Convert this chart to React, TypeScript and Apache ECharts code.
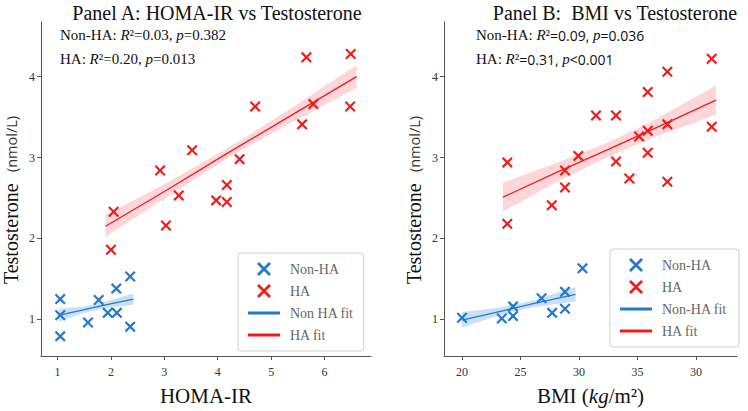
import React, { useEffect, useRef } from 'react';
import * as echarts from 'echarts';

// ---------- Data ----------
// Panel A: HOMA-IR vs Testosterone
const homaNonHA_x = [1.05, 1.05, 1.05, 1.57, 1.77, 1.94, 2.11, 2.10, 2.36, 2.36];
const homaNonHA_y = [1.25, 1.05, 0.79, 0.96, 1.24, 1.08, 1.08, 1.38, 1.53, 0.91];
const homaHA_x = [2.0, 2.05, 2.92, 3.03, 3.27, 3.52, 4.41, 4.17, 3.97, 4.17, 4.70, 5.66, 6.49, 5.58, 5.79, 6.48];
const homaHA_y = [1.86, 2.33, 2.84, 2.16, 2.53, 3.09, 2.98, 2.66, 2.47, 2.45, 3.63, 4.24, 4.28, 3.41, 3.66, 3.63];

const homaNonHAFit_x = [1.02, 1.5, 1.9, 2.42];
const homaNonHAFit_y = [1.05, 1.12, 1.18, 1.25];
const homaNonHABand_lo = [0.97, 1.08, 1.14, 1.18];
const homaNonHABand_hi = [1.13, 1.16, 1.22, 1.32];

const homaHAFit_x = [1.9, 3.0, 4.2, 5.4, 6.6];
const homaHAFit_y = [2.15, 2.58, 3.06, 3.53, 4.0];
const homaHABand_lo = [2.02, 2.49, 3.0, 3.44, 3.86];
const homaHABand_hi = [2.29, 2.67, 3.12, 3.62, 4.14];

// Panel B: BMI vs Testosterone
const bmiNonHA_x = [20.0, 23.4, 24.36, 24.36, 26.8, 27.7, 28.8, 28.8, 30.3];
const bmiNonHA_y = [1.02, 1.01, 1.04, 1.16, 1.26, 1.08, 1.13, 1.34, 1.63];
const bmiHA_x = [23.87, 23.87, 27.67, 28.8, 28.8, 29.94, 31.45, 33.16, 33.16, 34.3, 35.13, 35.87, 35.87, 35.87, 37.55, 37.55, 37.55, 41.34, 41.34];
const bmiHA_y = [2.94, 2.18, 2.41, 2.84, 2.63, 3.02, 3.52, 3.52, 2.95, 2.74, 3.26, 3.33, 3.81, 3.06, 4.06, 3.41, 2.70, 4.22, 3.38];

const bmiNonHAFit_x = [20.0, 23.0, 26.0, 29.7];
const bmiNonHAFit_y = [0.99, 1.09, 1.19, 1.31];
const bmiNonHABand_lo = [0.90, 1.04, 1.15, 1.22];
const bmiNonHABand_hi = [1.09, 1.14, 1.23, 1.40];

const bmiHAFit_x = [23.5, 28.0, 32.5, 36.0, 41.7];
const bmiHAFit_y = [2.51, 2.81, 3.10, 3.33, 3.71];
const bmiHABand_lo = [2.33, 2.69, 3.01, 3.23, 3.53];
const bmiHABand_hi = [2.69, 2.93, 3.19, 3.43, 3.89];

// Axis ticks / labels
const homaTicks = [1, 2, 3, 4, 5, 6];
const bmiTicks = [20, 25, 30, 35, 40];
const bmiTickLabels = ['20', '25', '30', '35', '30'];
const testoTicks = [1, 2, 3, 4];

const statsA = { nonHA: { r2: '0.03', p: '=0.382' }, HA: { r2: '0.20', p: '=0.013' } };
const statsB = { nonHA: { r2: '0.09', p: '=0.036' }, HA: { r2: '0.31', p: '<0.001' } };

// ---------- Styles ----------
const SERIF = '"Liberation Serif", "Times New Roman", serif';
const SANS = '"Open Sans", "Noto Sans", sans-serif';
const BLUE = '#2379cc';
const RED = '#ee1c1c';
const BLUE_BAND = 'rgba(70,145,230,0.28)';
const RED_BAND = 'rgba(245,70,80,0.22)';
const X_SYMBOL = 'path://M0,1.4L1.4,0L5,3.6L8.6,0L10,1.4L6.4,5L10,8.6L8.6,10L5,6.4L1.4,10L0,8.6L3.6,5Z';
const LINE_ICON = 'path://M0,0L32,0L32,3L0,3Z';

const pairs = (xs: number[], ys: number[]) => xs.map((x, i) => [x, ys[i]]);

const band = (idx: number, xs: number[], lo: number[], hi: number[], color: string) => ({
  type: 'custom',
  xAxisIndex: idx,
  yAxisIndex: idx,
  silent: true,
  z: 1,
  data: xs.map((x, i) => [x, lo[i], hi[i]]),
  encode: { x: 0, y: [1, 2] },
  renderItem: (params: any, api: any) => {
    if (params.dataIndex !== 0) return null;
    const up = xs.map((x, i) => api.coord([x, hi[i]]));
    const dn = xs.map((x, i) => api.coord([x, lo[i]])).reverse();
    return { type: 'polygon', shape: { points: up.concat(dn) }, style: { fill: color }, silent: true };
  },
});

const fit = (idx: number, name: string, xs: number[], ys: number[], color: string) => ({
  type: 'line',
  name,
  xAxisIndex: idx,
  yAxisIndex: idx,
  data: pairs(xs, ys),
  symbol: 'none',
  lineStyle: { color, width: 1.3 },
  itemStyle: { color },
  z: 3,
});

const scatter = (idx: number, name: string, xs: number[], ys: number[], color: string) => ({
  type: 'scatter',
  name,
  xAxisIndex: idx,
  yAxisIndex: idx,
  data: pairs(xs, ys),
  symbol: X_SYMBOL,
  symbolSize: 11,
  itemStyle: { color, opacity: 1 },
  z: 4,
});

const axisCommon = {
  splitLine: { show: false },
  axisLine: { show: true, lineStyle: { color: '#555', width: 1 } },
  axisTick: { show: true, length: 4, lineStyle: { color: '#555' } },
};

const legendCommon = {
  orient: 'vertical',
  itemWidth: 32,
  itemHeight: 14,
  itemGap: 8,
  backgroundColor: '#fff',
  borderColor: '#cfcfcf',
  borderWidth: 1,
  borderRadius: 3,
  textStyle: { fontFamily: SERIF, fontSize: 14, color: '#666', padding: [0, 0, 0, 5] },
};

const legendData = (fitName: string) => [
  { name: 'Non-HA' },
  { name: 'HA' },
  { name: fitName, icon: LINE_ICON },
  { name: 'HA fit', icon: LINE_ICON },
];

const statText = (x: number, y: number, label: string, r2: string, p: string, numFont: string, numSize: number) => ({
  type: 'text',
  x,
  y,
  style: {
    text: `{a|${label}: }{i|R}{a|²}{n|=${r2}, }{i|p}{n|${p}}`,
    textVerticalAlign: 'middle',
    rich: {
      a: { fontFamily: SERIF, fontSize: 15, fill: '#111' },
      i: { fontFamily: SERIF, fontSize: 15, fontStyle: 'italic', fill: '#111' },
      n: { fontFamily: numFont, fontSize: numSize, fill: '#111' },
    },
  },
});

export default function App() {
  const ref = useRef<HTMLDivElement>(null);
  useEffect(() => {
    if (!ref.current) return;
    const chart = echarts.init(ref.current, null, { renderer: 'svg' });
    const yName = {
      name: '{t|Testosterone}{u|   (nmol/L)}',
      nameLocation: 'middle',
      nameGap: 20,
      nameRotate: 90,
      nameTextStyle: {
        padding: [0, 22, 0, 0],
        rich: {
          t: { fontFamily: SERIF, fontSize: 20, color: '#111' },
          u: { fontFamily: SANS, fontSize: 14.5, color: '#333' },
        },
      },
    };
    const option: any = {
      animation: false,
      backgroundColor: '#fff',
      grid: [
        { left: 41, top: 22, width: 330, height: 337 },
        { left: 444, top: 22, width: 293, height: 338 },
      ],
      xAxis: [
        {
          type: 'value',
          gridIndex: 0,
          min: 0.69,
          max: 6.87,
          ...axisCommon,
          axisTick: { ...axisCommon.axisTick, customValues: homaTicks },
          axisLabel: { customValues: homaTicks, fontFamily: SERIF, fontSize: 12, color: '#333', margin: 10 },
          name: 'HOMA-IR',
          nameLocation: 'middle',
          nameGap: 29,
          nameTextStyle: { fontFamily: SERIF, fontSize: 21, color: '#111' },
        },
        {
          type: 'value',
          gridIndex: 1,
          min: 18.46,
          max: 43.5,
          ...axisCommon,
          axisTick: { ...axisCommon.axisTick, customValues: bmiTicks },
          axisLabel: {
            customValues: bmiTicks,
            formatter: (v: number) => bmiTickLabels[bmiTicks.indexOf(v)] ?? String(v),
            fontFamily: SERIF,
            fontSize: 12,
            color: '#333',
            margin: 10,
          },
          name: '{a|BMI (}{i|kg}{a|/m²)}',
          nameLocation: 'middle',
          nameGap: 29,
          nameTextStyle: {
            rich: {
              a: { fontFamily: SERIF, fontSize: 21, color: '#111' },
              i: { fontFamily: SERIF, fontSize: 21, fontStyle: 'italic', color: '#111' },
            },
          },
        },
      ],
      yAxis: [
        {
          type: 'value',
          gridIndex: 0,
          min: 0.547,
          max: 4.675,
          ...axisCommon,
          axisTick: { ...axisCommon.axisTick, customValues: testoTicks },
          axisLabel: { customValues: testoTicks, fontFamily: SERIF, fontSize: 12, color: '#333', margin: 6 },
          ...yName,
        },
        {
          type: 'value',
          gridIndex: 1,
          min: 0.547,
          max: 4.675,
          ...axisCommon,
          axisTick: { ...axisCommon.axisTick, customValues: testoTicks },
          axisLabel: { customValues: testoTicks, fontFamily: SERIF, fontSize: 12, color: '#333', margin: 6 },
          ...yName,
        },
      ],
      legend: [
        {
          ...legendCommon,
          left: 238,
          top: 253,
          padding: [9, 10, 9, 10],
          data: legendData('Non HA fit'),
        },
        {
          ...legendCommon,
          left: 610,
          top: 249,
          padding: [9, 12, 9, 10],
          data: legendData('Non-HA fit'),
        },
      ],
      graphic: [
        {
          type: 'text',
          x: 217,
          y: 13,
          style: { text: 'Panel A: HOMA-IR vs Testosterone', font: `20px ${SERIF}`, fill: '#111', textAlign: 'center', textVerticalAlign: 'middle' },
        },
        {
          type: 'text',
          x: 615,
          y: 13,
          style: { text: 'Panel B:  BMI vs Testosterone', font: `20px ${SERIF}`, fill: '#111', textAlign: 'center', textVerticalAlign: 'middle' },
        },
        statText(60, 35, 'Non-HA', statsA.nonHA.r2, statsA.nonHA.p, SERIF, 15),
        statText(60, 59, 'HA', statsA.HA.r2, statsA.HA.p, SERIF, 15),
        statText(476, 35, 'Non-HA', statsB.nonHA.r2, statsB.nonHA.p, SANS, 14),
        statText(476, 59, 'HA', statsB.HA.r2, statsB.HA.p, SANS, 14),
      ],
      series: [
        band(0, homaNonHAFit_x, homaNonHABand_lo, homaNonHABand_hi, BLUE_BAND),
        band(0, homaHAFit_x, homaHABand_lo, homaHABand_hi, RED_BAND),
        fit(0, 'Non HA fit', homaNonHAFit_x, homaNonHAFit_y, BLUE),
        fit(0, 'HA fit', homaHAFit_x, homaHAFit_y, RED),
        scatter(0, 'Non-HA', homaNonHA_x, homaNonHA_y, BLUE),
        scatter(0, 'HA', homaHA_x, homaHA_y, RED),
        band(1, bmiNonHAFit_x, bmiNonHABand_lo, bmiNonHABand_hi, BLUE_BAND),
        band(1, bmiHAFit_x, bmiHABand_lo, bmiHABand_hi, RED_BAND),
        fit(1, 'Non-HA fit', bmiNonHAFit_x, bmiNonHAFit_y, BLUE),
        fit(1, 'HA fit', bmiHAFit_x, bmiHAFit_y, RED),
        scatter(1, 'Non-HA', bmiNonHA_x, bmiNonHA_y, BLUE),
        scatter(1, 'HA', bmiHA_x, bmiHA_y, RED),
      ],
    };
    chart.setOption(option);
    return () => chart.dispose();
  }, []);
  return <div ref={ref} style={{ position: 'fixed', left: 0, top: 0, width: 748, height: 411 }} />;
}
